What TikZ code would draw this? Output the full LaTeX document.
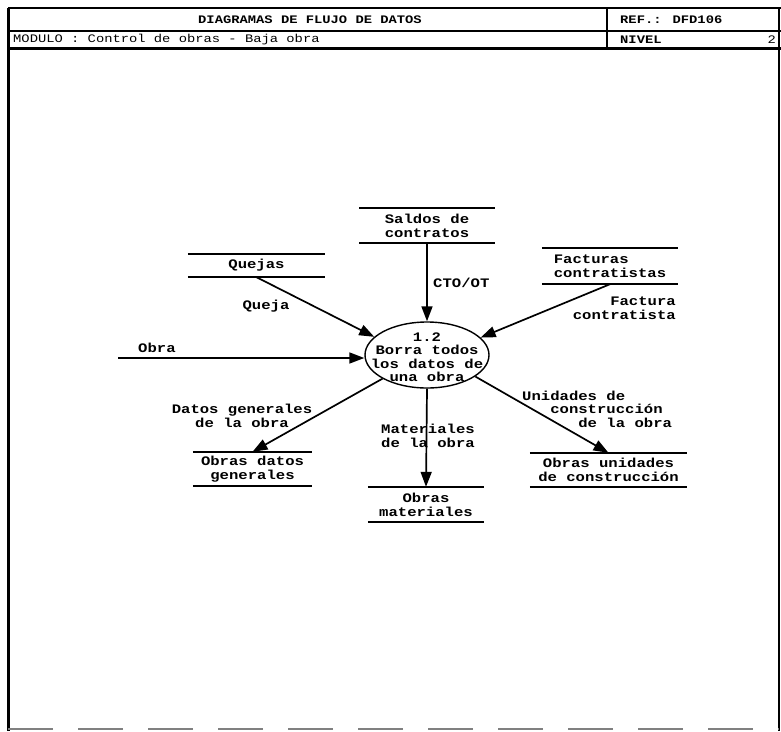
\documentclass[tikz,border=0pt]{standalone}
\usepackage{fontspec}
\newfontfamily\dfdfont[FakeStretch=1.2]{Liberation Mono}
\usetikzlibrary{arrows.meta,shapes.geometric}

\begin{document}
\begin{tikzpicture}[x=1pt,y=-1pt]
    \tikzset{%
      proc/.style={ellipse, draw, line width=1.4pt, minimum width=124pt,
        minimum height=66pt, inner sep=0pt},
      ptext/.style={align=center, inner sep=0pt,
        font=\dfdfont\bfseries\fontsize{13}{13.5}\selectfont},
      store/.style={align=center, inner sep=0pt,
        font=\dfdfont\bfseries\fontsize{13}{13.8}\selectfont},
      lbl/.style={inner sep=0pt,
        font=\dfdfont\bfseries\fontsize{13}{13.5}\selectfont},
      flow/.style={line width=1.7pt, -{Triangle[length=15pt,width=11pt]}},
      hdr/.style={inner sep=0pt, font=\dfdfont\fontsize{11.5}{13}\selectfont},
      hdrb/.style={hdr, font=\dfdfont\bfseries\fontsize{11.5}{13}\selectfont},
    }
    \useasboundingbox (0,0) rectangle (781,731);
    % frame and header
    \draw [line width=3pt] (8,8) -- (8,731);
    \draw [line width=1.2pt] (779,8) -- (779,731);
    \draw [gray, line width=1.5pt, dash pattern=on 45pt off 25pt] (8,729) -- (779,729);
    \draw [line width=2pt] (8,8) -- (781,8);
    \draw [line width=1.5pt] (8,31) -- (781,31);
    \draw [line width=3pt] (8,48) -- (781,48);
    \draw [line width=1.5pt] (607,8) -- (607,48);
    \node[hdrb] (T) at (310,20) {DIAGRAMAS DE FLUJO DE DATOS};
    \node[hdrb, anchor=west] (R) at (620,20) {REF.: DFD106};
    \node[hdr, anchor=west] (MOD) at (13,40) {MODULO : Control de obras - Baja obra};
    \node[hdrb, anchor=west] (N) at (620,40) {NIVEL};
    \node[hdr, anchor=east] (NV) at (776,40) {2};

    % process
    \node[proc] (P) at (427,355) {};
    \node[ptext] (PT) at (427,357) {1.2\\Borra todos\\los datos de\\una obra};

    % stores
    \node[store, minimum width=135pt, minimum height=35pt] (S) at (427,225.5) {Saldos de\\contratos};
    \node[store, minimum width=137pt, minimum height=23pt] (Q) at (256.5,265.5) {Quejas};
    \node[store, align=left, minimum width=136pt, minimum height=36pt] (F) at (610,266) {Facturas\\contratistas};
    \node[store, minimum width=119pt, minimum height=34pt] (DG) at (252.5,469) {Obras datos\\generales};
    \node[store, minimum width=116pt, minimum height=35pt] (M) at (426,504.5) {Obras\\materiales};
    \node[store, minimum width=157pt, minimum height=34pt] (U) at (608.5,470) {Obras unidades\\de construcción};
    \foreach \n in {S,Q,F,DG,M,U} {
      \draw [line width=1.5pt] (\n.north west) -- (\n.north east);
      \draw [line width=1.5pt] (\n.south west) -- (\n.south east);
    }

    % flows
    \coordinate (O0) at (118,358);
    \draw [flow] (O0) -- (O0 -| P.west);
    \draw [flow] (S.south) -- (P.north);
    \draw [flow] (Q.south) -- (P.161);
    \draw [flow] (F.south) -- (P.18);
    \draw [flow] (P.208) -- (DG.north);
    \draw [flow] (P.south) -- (M.north);
    \draw [flow] (P.336) -- (U.north);

    \node[lbl, anchor=west] (LO) at (138,348) {Obra};
    \node[lbl, anchor=west] (LCTO) at (433,283) {CTO/OT};
    \node[lbl] (LQ) at (266,306) {Queja};
    \node[lbl, align=right, anchor=east] (LF) at (676,308) {Factura\\contratista};
    \node[lbl, align=center] (LDG) at (242,416) {Datos generales\\de la obra};
    \node[lbl, align=center] (LM) at (428,436) {Materiales\\de la obra};
    \node[lbl, align=left, anchor=west] (LU) at (522,409) {Unidades de\\~~~construcción\\~~~~~~de la obra};
\end{tikzpicture}
\end{document}
